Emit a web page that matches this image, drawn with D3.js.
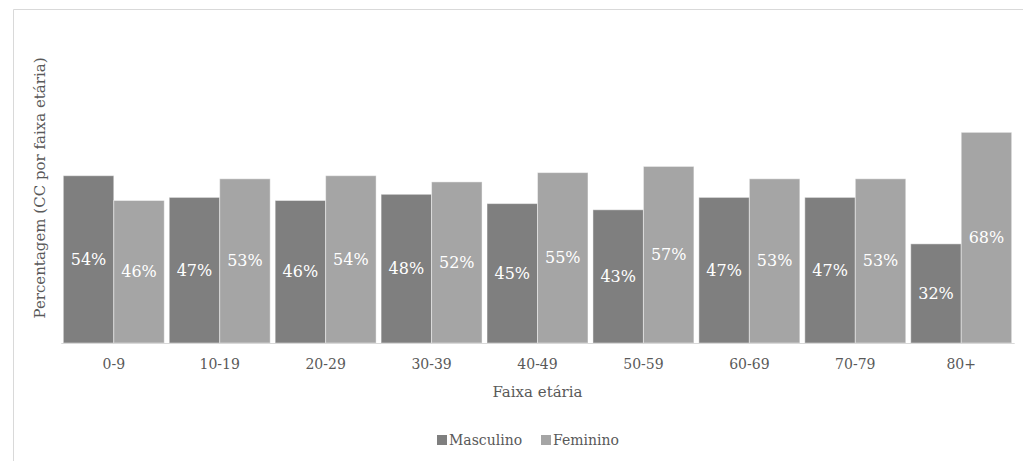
<!DOCTYPE html>
<html>
<head>
<meta charset="utf-8">
<script src="https://cdn.jsdelivr.net/npm/d3@7"></script>
<style>
  html, body { margin: 0; padding: 0; background: #fff; }
  svg { display: block; }
  text { font-family: "DejaVu Serif", serif; }
</style>
</head>
<body>
<svg id="chart" width="1023" height="461"></svg>
<script>
const categories = ["0-9", "10-19", "20-29", "30-39", "40-49", "50-59", "60-69", "70-79", "80+"];
const seriesNames = ["Masculino", "Feminino"];
const masculino = [54, 47, 46, 48, 45, 43, 47, 47, 32];
const feminino = [46, 53, 54, 52, 55, 57, 53, 53, 68];
const colors = ["#7f7f7f", "#a5a5a5"];

const svg = d3.select("#chart");
const W = 1023, H = 461;

// frame (chart area border, clipped)
svg.append("line").attr("x1", 13.5).attr("x2", 13.5).attr("y1", 9.5).attr("y2", H)
  .attr("stroke", "#d9d9d9").attr("stroke-width", 1);
svg.append("line").attr("x1", 13.5).attr("x2", W).attr("y1", 9.5).attr("y2", 9.5)
  .attr("stroke", "#d9d9d9").attr("stroke-width", 1);

const x0 = d3.scaleBand().domain(categories).range([60.8, 1014.2])
  .paddingInner(0.047).paddingOuter(0.0236);
const x1 = d3.scaleBand().domain(seriesNames).range([0, x0.bandwidth()]);
const y = d3.scaleLinear().domain([0, 100]).range([343, 33.2]);

const data = categories.map((c, i) => ({
  cat: c,
  vals: [{ s: "Masculino", v: masculino[i] }, { s: "Feminino", v: feminino[i] }]
}));

const g = svg.append("g");
const groups = g.selectAll("g.grp").data(data).join("g")
  .attr("class", "grp")
  .attr("transform", d => `translate(${x0(d.cat)},0)`);

groups.selectAll("rect").data(d => d.vals).join("rect")
  .attr("x", d => x1(d.s))
  .attr("y", d => y(d.v))
  .attr("width", x1.bandwidth())
  .attr("height", d => y(0) - y(d.v))
  .attr("fill", (d, i) => colors[i])
  .attr("stroke", "#ffffff")
  .attr("stroke-opacity", 0.45)
  .attr("stroke-width", 1);

groups.selectAll("text.lbl").data(d => d.vals).join("text")
  .attr("class", "lbl")
  .attr("x", d => x1(d.s) + x1.bandwidth() / 2)
  .attr("y", d => (y(d.v) + y(0)) / 2)
  .attr("text-anchor", "middle")
  .attr("dominant-baseline", "central")
  .attr("fill", "#ffffff")
  .attr("font-size", 16)
  .text(d => d.v + "%");

// x axis
const xAxis = svg.append("g").attr("transform", `translate(0,${y(0)})`)
  .call(d3.axisBottom(x0).tickSize(0).tickPadding(16));
xAxis.select(".domain").attr("stroke", "#d9d9d9").attr("stroke-width", 1);
xAxis.selectAll("text").attr("font-family", "DejaVu Serif, serif")
  .attr("font-size", 14).attr("fill", "#595959");

// axis titles
svg.append("text").attr("x", (60.8 + 1014.2) / 2).attr("y", 392)
  .attr("text-anchor", "middle").attr("dominant-baseline", "central")
  .attr("font-size", 15).attr("fill", "#595959").text("Faixa etária");

svg.append("text")
  .attr("transform", `translate(40,188) rotate(-90)`)
  .attr("text-anchor", "middle").attr("dominant-baseline", "central")
  .attr("font-size", 15).attr("fill", "#595959")
  .text("Percentagem (CC por faixa etária)");

// legend
const legendX = [437, 541];
const legend = svg.append("g");
seriesNames.forEach((s, i) => {
  legend.append("rect").attr("x", legendX[i]).attr("y", 435).attr("width", 10).attr("height", 10)
    .attr("fill", colors[i]);
  legend.append("text").attr("x", legendX[i] + 12).attr("y", 440)
    .attr("dominant-baseline", "central").attr("font-size", 14).attr("fill", "#595959").text(s);
});
</script>
</body>
</html>
